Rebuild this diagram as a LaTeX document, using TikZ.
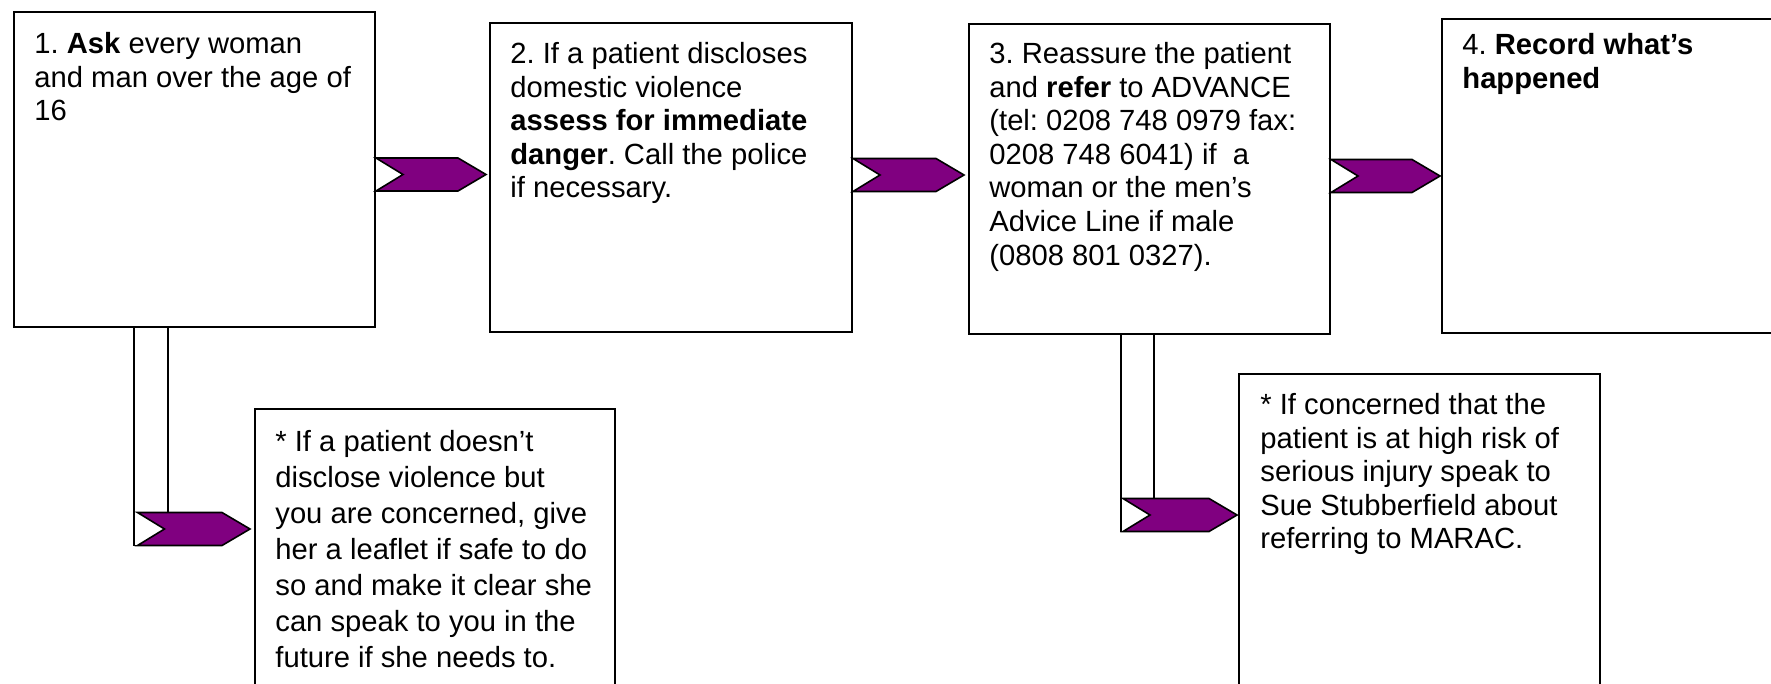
\documentclass[tikz,border=0pt]{standalone}
\usepackage{fontspec}
\setmainfont{Liberation Sans}
\usepackage{tikz}
\usetikzlibrary{positioning, calc}
\definecolor{chevpurple}{RGB}{128,0,128}
\frenchspacing

\newcommand{\chevron}[2]{%
  \filldraw[chev] ($#1+(0,-16.5)$) -- ($#2+(-28,-16.5)$) -- #2 -- ($#2+(-28,16.5)$) -- ($#1+(0,16.5)$) -- ($#1+(27,0)$) -- cycle;}

\begin{document}
\begin{tikzpicture}[
    x=0.5pt, y=-0.5pt,
    box/.style={rectangle, draw, line width=1pt, anchor=north west, inner sep=0pt},
    txt/.style={anchor=north west, inner sep=0pt, align=left,
                font=\fontsize{14.6pt}{16.8pt}\selectfont},
    chev/.style={fill=chevpurple, draw=black, line width=0.8pt, line join=miter},
    stem/.style={draw=black, line width=0.8pt}
]
\useasboundingbox (0,0) rectangle (1771,684);
\clip (0,0) rectangle (1771,684);

\node[box, minimum width=180.5pt, minimum height=157.5pt] (ask) at (13,11) {};
\node[box, minimum width=181pt, minimum height=154.5pt] (disc) at (489,22) {};
\node[box, minimum width=180.5pt, minimum height=155pt] (refer) at (968,23) {};
\node[box, minimum width=180pt, minimum height=157pt] (record) at (1441,18) {};
\node[box, minimum width=180pt, minimum height=160pt] (leaf) at (254,408) {};
\node[box, minimum width=180.5pt, minimum height=180pt] (marac) at (1238,373) {};

\node[txt] (askt) at ($(ask.north west)+(21,21)$) {1. \textbf{Ask} every woman\\and man over the age of\\16};
\node[txt] (disct) at ($(disc.north west)+(21,20)$) {2. If a patient discloses\\domestic violence\\\textbf{assess for immediate}\\\textbf{danger}. Call the police\\if necessary.};
\node[txt] (refert) at ($(refer.north west)+(21,19)$) {3. Reassure the patient\\and \textbf{refer} to ADVANCE\\(tel: 0208 748 0979 fax:\\0208 748 6041) if\ \ a\\woman or the men’s\\Advice Line if male\\(0808 801 0327).};
\node[txt] (recordt) at ($(record.north west)+(21,15)$) {4. \textbf{Record what’s}\\\textbf{happened}};
\node[txt, font=\fontsize{14.6pt}{18pt}\selectfont] (leaft) at ($(leaf.north west)+(21,22)$) {* If a patient doesn’t\\disclose violence but\\you are concerned, give\\her a leaflet if safe to do\\so and make it clear she\\can speak to you in the\\future if she needs to.};
\node[txt] (maract) at ($(marac.north west)+(22,20)$) {* If concerned that the\\patient is at high risk of\\serious injury speak to\\Sue Stubberfield about\\referring to MARAC.};

\coordinate (s1) at ($(ask.east)+(0,5)$);
\coordinate (t1) at ($(disc.west |- s1)+(-3,0)$);
\coordinate (s2) at ($(disc.east)+(0,-2.5)$);
\coordinate (t2) at ($(refer.west |- s2)+(-4,0)$);
\coordinate (s3) at ($(refer.east)+(0,-3)$);
\coordinate (t3) at ($(record.west |- s3)+(-1,0)$);
\chevron{(s1)}{(t1)}
\chevron{(s2)}{(t2)}
\chevron{(s3)}{(t3)}

\coordinate (b1) at ($(ask.south west)+(121,201)$);
\coordinate (bs1) at ($(b1)+(3.5,0)$);
\coordinate (bt1) at ($(leaf.west |- b1)+(-4,0)$);
\draw[stem] (ask.south west -| b1) |- ($(b1)+(4,16.5)$);
\draw[stem] ($(ask.south west -| b1)+(34,0)$) -- ($(b1)+(34,-16.5)$);
\chevron{(bs1)}{(bt1)}

\coordinate (b2) at ($(refer.south west)+(153,180)$);
\coordinate (bs2) at ($(b2)+(2,0)$);
\coordinate (bt2) at ($(marac.west |- b2)+(-1,0)$);
\draw[stem] (refer.south west -| b2) |- ($(b2)+(4,16.5)$);
\draw[stem] ($(refer.south west -| b2)+(33,0)$) -- ($(b2)+(33,-16.5)$);
\chevron{(bs2)}{(bt2)}
\end{tikzpicture}
\end{document}
